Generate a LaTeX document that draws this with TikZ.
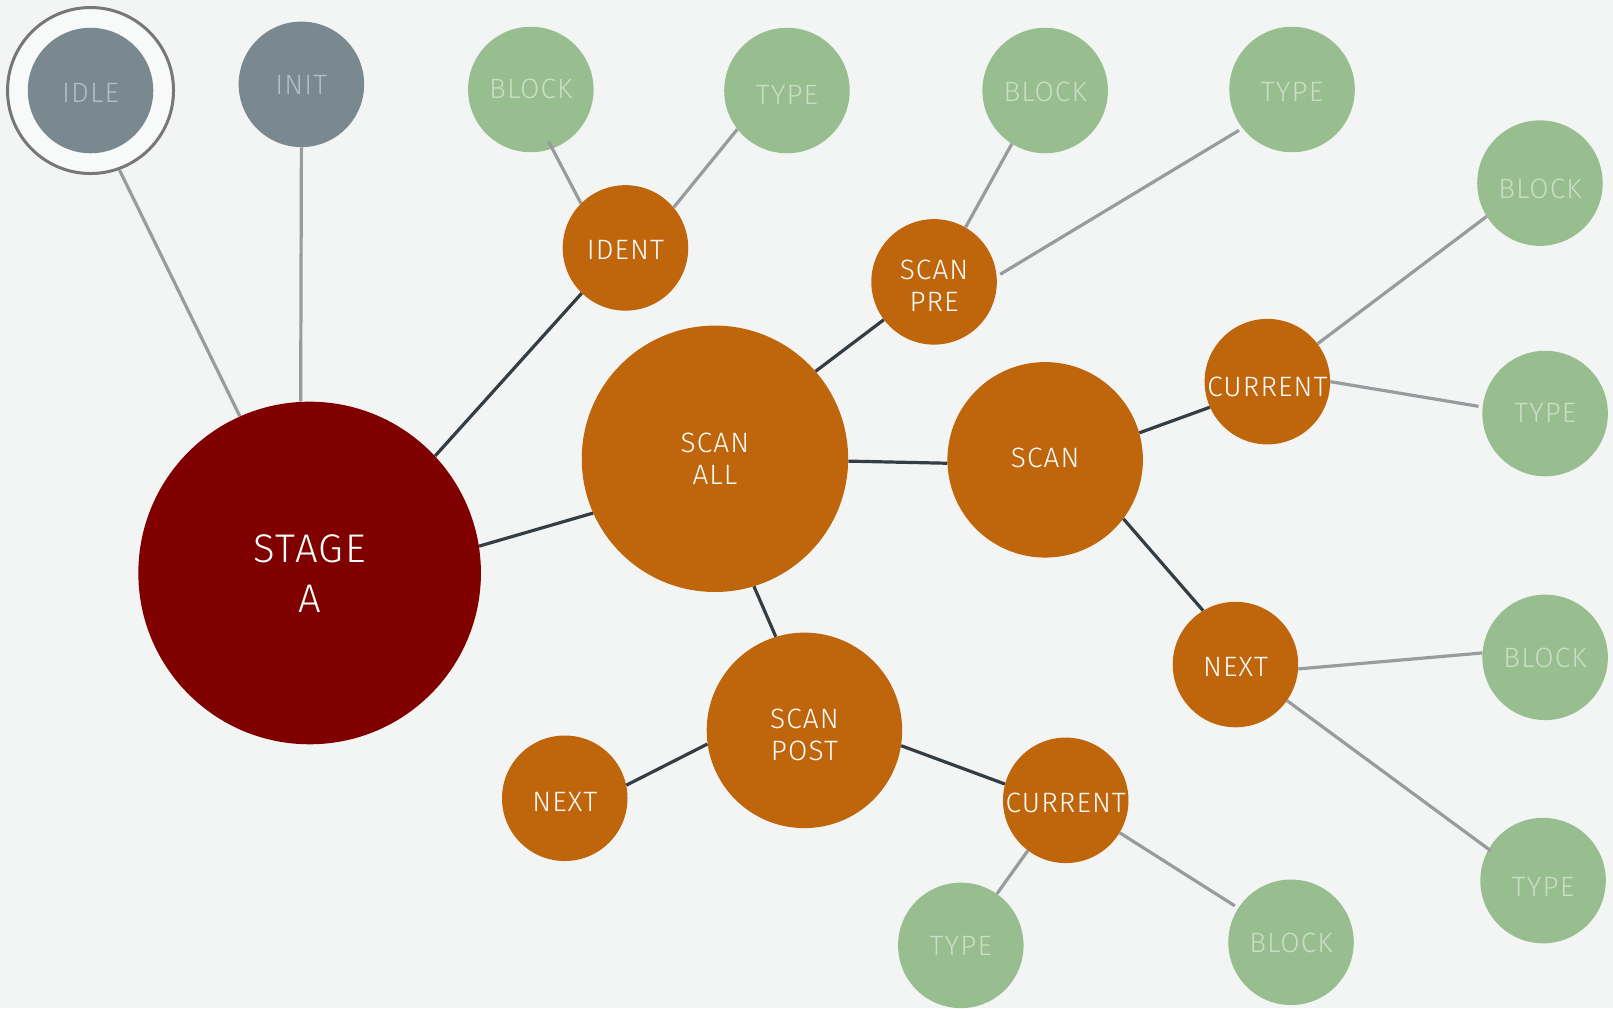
\documentclass[tikz,border=0pt]{standalone}
\usepackage{fontspec}
\IfFontExistsTF{Fira Sans Light}{\setmainfont{Fira Sans Light}[LetterSpace=4]}{\setmainfont{Fira Sans}[LetterSpace=4]}
\definecolor{bg}{HTML}{F3F5F4}
\definecolor{gnode}{HTML}{98BD8F}
\definecolor{gtext}{HTML}{CADDC5}
\definecolor{snode}{HTML}{7A8890}
\definecolor{stext}{HTML}{B3BEC4}
\definecolor{onode}{HTML}{BF650C}
\definecolor{rnode}{HTML}{800000}
\definecolor{lgrey}{HTML}{999C9E}
\definecolor{ldark}{HTML}{333D42}
\definecolor{ring}{HTML}{777777}
\definecolor{ringfill}{HTML}{F8F9F9}
\begin{document}
\begin{tikzpicture}[x=1.0287pt,y=-1.0287pt,
  nd/.style={circle,inner sep=0pt},
  small/.style={nd,minimum size=125.5pt},
  gn/.style={small,fill=gnode},
  sn/.style={small,fill=snode},
  on/.style={small,fill=onode},
  big/.style={nd,fill=onode,minimum size=#1},
  tx/.style={inner sep=0pt,align=center,font=\fontsize{28}{32}\selectfont},
  gt/.style={tx,text=gtext},
  st/.style={tx,text=stext},
  wt/.style={tx,text=white},
  lg/.style={draw=lgrey,line width=3.2pt},
  ld/.style={draw=ldark,line width=3.2pt}]
\fill[bg] (0,0) rectangle (1568,980);
\useasboundingbox (0,0) rectangle (1568,980);
% circles
\node[circle,draw=ring,line width=3pt,fill=ringfill,minimum size=166pt] (idle) at (88,88) {};
\node[sn] (idlein) at (88,88) {};
\node[sn] (init) at (293,82) {};
\node[gn] (b1) at (516,87) {};
\node[gn] (t1) at (765,88) {};
\node[gn] (b2) at (1016,88) {};
\node[gn] (t2) at (1256,87) {};
\node[gn] (b3) at (1497,178) {};
\node[gn] (t3) at (1502,402) {};
\node[gn] (b4) at (1502,639) {};
\node[gn] (t4) at (1500,856) {};
\node[gn] (b5) at (1255,916) {};
\node[gn] (t5) at (934,919) {};
\node[on] (ident) at (608,241) {};
\node[on] (spre) at (908,274) {};
\node[on] (cur1) at (1232,371) {};
\node[on] (next1) at (1201,646) {};
\node[on] (next2) at (549,776) {};
\node[on] (cur2) at (1036,778) {};
\node[nd,fill=rnode,minimum size=342.6pt] (stage) at (301,557) {};
\node[big=266.4pt] (sall) at (695,446) {};
\node[big=195.5pt] (scan) at (1016,447) {};
\node[big=195.5pt] (spost) at (782,710) {};
% texts
\node[st] (idlet) at ([yshift=-2pt]idlein.center) {IDLE};
\node[st] (initt) at ([yshift=-1pt]init.center) {INIT};
\node[gt] (b1t) at ([yshift=1pt]b1.center) {BLOCK};
\node[gt] (t1t) at ([yshift=-4pt]t1.center) {TYPE};
\node[gt] (b2t) at ([yshift=-1pt]b2.center) {BLOCK};
\node[gt] (t2t) at ([yshift=-2pt]t2.center) {TYPE};
\node[gt] (b3t) at ([yshift=-6pt]b3.center) {BLOCK};
\node[gt] (t3t) at ([yshift=1pt]t3.center) {TYPE};
\node[gt] (b4t) at ([yshift=-1pt]b4.center) {BLOCK};
\node[gt] (t4t) at ([yshift=-6.5pt]t4.center) {TYPE};
\node[gt] (b5t) at ([yshift=-1pt]b5.center) {BLOCK};
\node[gt] (t5t) at ([yshift=-1pt]t5.center) {TYPE};
\node[wt] (identt) at ([yshift=-2pt]ident.center) {IDENT};
\node[wt] (spret) at ([yshift=-4pt]spre.center) {SCAN\\PRE};
\node[wt] (cur1t) at ([yshift=-5pt]cur1.center) {CURRENT};
\node[wt] (next1t) at ([yshift=-2pt]next1.center) {NEXT};
\node[wt] (next2t) at ([yshift=-4pt]next2.center) {NEXT};
\node[wt] (cur2t) at ([yshift=-3pt]cur2.center) {CURRENT};
\node[wt,font=\fontsize{40}{50}\selectfont] (staget) at ([yshift=-1pt]stage.center) {STAGE\\A};
\node[wt] (sallt) at (sall.center) {SCAN\\ALL};
\node[wt] (scant) at ([yshift=2pt]scan.center) {SCAN};
\node[wt] (spostt) at ([yshift=-4.5pt]spost.center) {SCAN\\POST};
% connectors
\draw[lg] (idle.-70) -- (stage.114);
\draw[lg] (init.-90) -- (stage.93);
\draw[ld] (stage.43) -- (ident.226);
\draw[ld] (stage.9) -- (sall.204);
\draw[lg,shorten <=-8pt] (b1.-70) -- (ident.135);
\draw[lg] (ident.40) -- (t1.218);
\draw[ld] (sall.41) -- (spre.217);
\draw[lg] (spre.60) -- (b2.238);
\draw[lg,shorten <=4pt,shorten >=4pt] (spre.5) -- (t2.218);
\draw[ld] (sall.-1) -- (scan.182);
\draw[ld] (scan.16) -- (cur1.204);
\draw[lg] (cur1.37) -- (b3.212);
\draw[lg,shorten >=4pt] (cur1.0) -- (t3.174);
\draw[ld] (scan.-37) -- (next1.121);
\draw[lg] (next1.-4) -- (b4.176);
\draw[lg,shorten >=-3pt] (next1.-35) -- (t4.150);
\draw[ld] (sall.-73) -- (spost.107);
\draw[ld] (spost.188) -- (next2.12);
\draw[ld] (spost.-9) -- (cur2.165);
\draw[lg] (cur2.233) -- (t5.55);
\draw[lg,shorten >=4pt] (cur2.-31) -- (b5.147);
\end{tikzpicture}
\end{document}
